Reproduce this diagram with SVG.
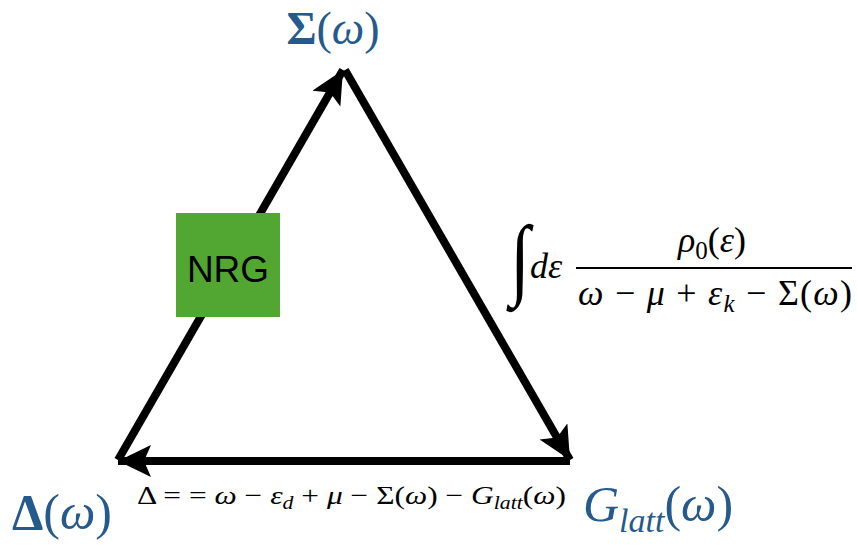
<svg xmlns="http://www.w3.org/2000/svg" width="857" height="548" viewBox="0 0 857 548">
<style>
.blue{fill:#245a8c;font-family:"Liberation Serif","DejaVu Serif",serif}
.m{font-family:"Liberation Serif","DejaVu Serif",serif;fill:#000}
.i{font-style:italic}
.edge{stroke:#000;stroke-width:8;fill:none}
</style>
<defs>
<marker id="ah" markerUnits="userSpaceOnUse" markerWidth="40" markerHeight="40" refX="33" refY="16" orient="auto">
<path d="M0,0 L33,16 L0,32 L7,16 Z" fill="#000"/>
</marker>
</defs>
<rect width="857" height="548" fill="#fff"/>
<g id="connectors">
<line class="edge" x1="118" y1="460" x2="343" y2="70" marker-end="url(#ah)"/>
<line class="edge" x1="345" y1="70" x2="570" y2="460" marker-end="url(#ah)"/>
<line class="edge" x1="570" y1="461" x2="118" y2="461" marker-end="url(#ah)"/>
</g>
<g id="nrg">
<rect x="176" y="213" width="104" height="104" fill="#52a733"/>
<text x="228" y="282" font-family="Liberation Sans,Arial,sans-serif" font-size="37" text-anchor="middle">NRG</text>
</g>
<g id="sigma">
<text class="blue" x="333" y="44" font-size="46" text-anchor="middle" font-weight="bold">Σ<tspan font-weight="normal">(</tspan><tspan font-weight="normal" class="i">ω</tspan><tspan font-weight="normal">)</tspan></text>
</g>
<g id="delta">
<text class="blue" x="12" y="529" font-size="50" font-weight="bold">Δ<tspan font-weight="normal">(</tspan><tspan font-weight="normal" class="i">ω</tspan><tspan font-weight="normal">)</tspan></text>
</g>
<g id="glatt">
<text class="blue" x="583" y="521" font-size="50"><tspan class="i">G</tspan><tspan class="i" font-size="34" dy="11">latt</tspan><tspan dy="-11">(</tspan><tspan class="i">ω</tspan>)</text>
</g>
<g id="integral">
<text class="m" transform="translate(510,288) scale(1,1.25)" font-size="72">∫</text>
<text class="m i" x="530" y="278" font-size="36">dε</text>
<line x1="576" y1="268" x2="852" y2="268" stroke="#000" stroke-width="2"/>
<text class="m" x="712" y="252" font-size="36" text-anchor="middle"><tspan class="i">ρ</tspan><tspan font-size="25" dy="7">0</tspan><tspan dy="-7">(</tspan><tspan class="i">ε</tspan>)</text>
<text class="m" x="578" y="305" font-size="36" textLength="274" lengthAdjust="spacing"><tspan class="i">ω</tspan> − <tspan class="i">μ</tspan> + <tspan class="i">ε</tspan><tspan class="i" font-size="25" dy="7">k</tspan><tspan dy="-7"> − Σ(</tspan><tspan class="i">ω</tspan>)</text>
</g>
<g id="deltaeq">
<text class="m" x="137" y="504" font-size="26" textLength="429" lengthAdjust="spacingAndGlyphs">Δ = = <tspan class="i">ω</tspan> − <tspan class="i">ε</tspan><tspan class="i" font-size="18" dy="5">d</tspan><tspan dy="-5"> + </tspan><tspan class="i">μ</tspan> − Σ(<tspan class="i">ω</tspan>) − <tspan class="i">G</tspan><tspan class="i" font-size="18" dy="5">latt</tspan><tspan dy="-5">(</tspan><tspan class="i">ω</tspan>)</text>
</g>
</svg>
